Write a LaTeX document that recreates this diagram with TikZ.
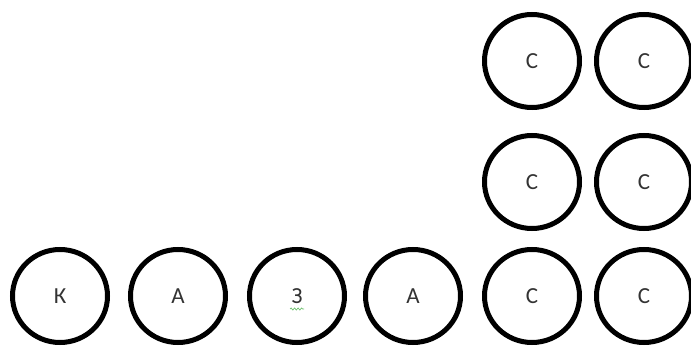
\documentclass[tikz,border=0pt]{standalone}
\usepackage{fontspec}
\setmainfont{Carlito}
\usetikzlibrary{shapes.geometric,decorations.pathmorphing}
\definecolor{txt}{HTML}{333333}
\definecolor{spell}{HTML}{6CC06C}
\tikzset{
  ball/.style={ellipse, draw=black, line width=5pt, minimum width=95pt, minimum height=93pt, inner sep=0pt,
    text=txt, font=\fontsize{23}{23}\selectfont},
  squiggle/.style={draw=spell, line width=0.7pt, decorate, decoration={snake, amplitude=1pt, segment length=3.5pt}}
}
\begin{document}
\begin{tikzpicture}[x=1pt,y=-1pt]
\useasboundingbox (0,0) rectangle (691,347);
\fill[white] (0,0) rectangle (691,347);
% bottom row
\node[ball] (k)  at (60,296)  {К};
\node[ball] (a1) at (178,296) {А};
\node[ball] (z)  at (297,296) {З};
\node[ball] (a2) at (413,296) {А};
\node[ball] (c1) at (532,296) {С};
\node[ball] (c2) at (644,296) {С};
% middle row
\node[ball] (c3) at (532,182) {С};
\node[ball] (c4) at (644,182) {С};
% top row
\node[ball] (c5) at (532,61) {С};
\node[ball] (c6) at (644,61) {С};
% spell-check underline under З
\coordinate (zl) at ([xshift=-7pt,yshift=-13pt]z.center);
\coordinate (zr) at ([xshift=7pt,yshift=-13pt]z.center);
\draw[squiggle] (zl) -- (zr);
\end{tikzpicture}
\end{document}
